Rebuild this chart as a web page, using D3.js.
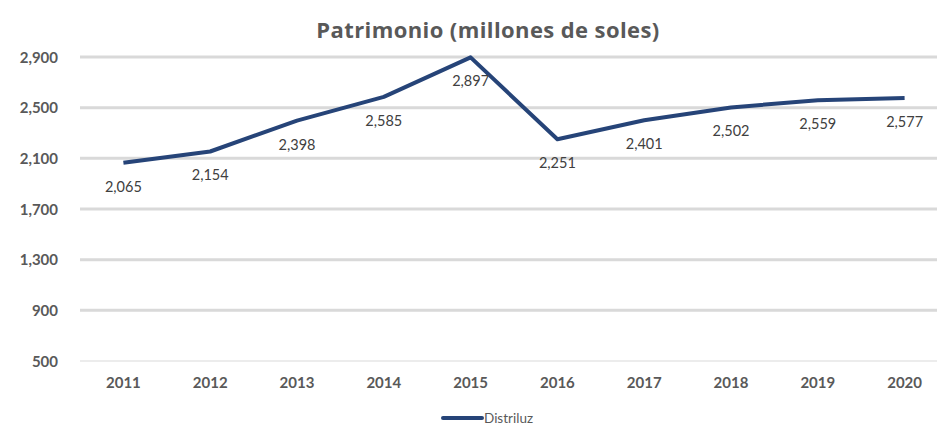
<!DOCTYPE html>
<html>
<head>
<meta charset="utf-8">
<script src="https://cdn.jsdelivr.net/npm/d3@7"></script>
<style>
  body { margin: 0; background: #fff; }
  svg { display: block; font-family: Lato, "Open Sans", sans-serif; }
</style>
</head>
<body>
<script>
var years = ["2011", "2012", "2013", "2014", "2015", "2016", "2017", "2018", "2019", "2020"];
var distriluz = [2065, 2154, 2398, 2585, 2897, 2251, 2401, 2502, 2559, 2577];
var yTicks = [500, 900, 1300, 1700, 2100, 2500, 2900];
var seriesName = "Distriluz";

var width = 937,
    height = 425;

var svg = d3.select("body")
    .append("svg")
    .attr("width", width)
    .attr("height", height);

var x = d3.scaleBand()
    .domain(years)
    .range([80, 948]);

var y = d3.scaleLinear()
    .domain([500, 2900])
    .range([361, 57]);

svg.append("text")
    .attr("x", 488)
    .attr("y", 38)
    .attr("text-anchor", "middle")
    .attr("fill", "#595959")
    .style("font-family", "'Open Sans', sans-serif")
    .style("font-size", "22px")
    .style("font-weight", "bold")
    .style("letter-spacing", "0.4px")
    .text("Patrimonio (millones de soles)");

// gridlines
svg.append("g")
    .selectAll("line")
    .data(yTicks)
    .enter()
    .append("line")
    .attr("x1", 80)
    .attr("x2", width)
    .attr("y1", d => y(d))
    .attr("y2", d => y(d))
    .attr("stroke", "#d9d9d9")
    .attr("stroke-width", d => d === 500 ? 1 : 3);

// y axis labels
var yAxis = svg.append("g")
    .attr("transform", "translate(58,0)")
    .call(d3.axisLeft(y).tickValues(yTicks).tickFormat(d3.format(",")).tickSize(0).tickPadding(0));
yAxis.select(".domain").remove();
yAxis.selectAll("text")
    .attr("fill", "#595959")
    .attr("dy", "0.35em")
    .style("font-size", "15px")
    .style("font-weight", "bold")
    .style("font-family", "Lato, sans-serif");

// x axis labels
var xAxis = svg.append("g")
    .attr("transform", "translate(0,377)")
    .call(d3.axisBottom(x).tickSize(0).tickPadding(0));
xAxis.select(".domain").remove();
xAxis.selectAll("text")
    .attr("fill", "#595959")
    .attr("dy", "0.71em")
    .style("font-size", "15px")
    .style("font-weight", "bold")
    .style("font-family", "Lato, sans-serif");

var pts = years.map((yr, i) => ({ year: yr, value: distriluz[i] }));

var line = d3.line()
    .x(d => x(d.year) + x.bandwidth() / 2)
    .y(d => y(d.value));

svg.append("path")
    .datum(pts)
    .attr("fill", "none")
    .attr("stroke", "#264478")
    .attr("stroke-width", 4)
    .attr("stroke-linejoin", "round")
    .attr("d", line);

svg.append("g")
    .selectAll("text")
    .data(pts)
    .enter()
    .append("text")
    .attr("x", d => x(d.year) + x.bandwidth() / 2)
    .attr("y", d => y(d.value) + 29)
    .attr("text-anchor", "middle")
    .attr("fill", "#404040")
    .style("font-size", "14.5px")
    .text(d => d3.format(",")(d.value));

// legend
var lg = svg.append("g");
lg.append("line")
    .attr("x1", 443)
    .attr("x2", 482)
    .attr("y1", 418)
    .attr("y2", 418)
    .attr("stroke", "#264478")
    .attr("stroke-width", 4)
    .attr("stroke-linecap", "round");
lg.append("text")
    .attr("x", 484)
    .attr("y", 422.5)
    .attr("fill", "#595959")
    .style("font-size", "13.5px")
    .text(seriesName);
</script>
</body>
</html>
